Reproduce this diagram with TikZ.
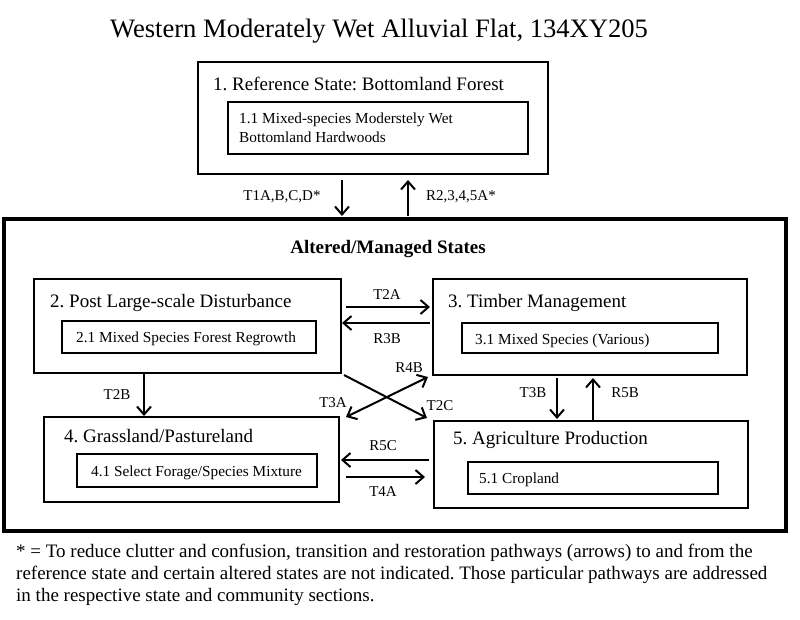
\documentclass[tikz,border=0pt]{standalone}
\usepackage{fontspec}
\setmainfont{Liberation Serif}
\usetikzlibrary{arrows.meta,calc}
\frenchspacing
\tikzset{
 sbox/.style={draw, line width=2.2pt, inner sep=0pt, outer sep=0pt, anchor=north west},
 ibox/.style={draw, line width=1.6pt, inner sep=0pt, outer sep=0pt, anchor=north west},
 bigbox/.style={draw, line width=4pt, inner sep=0pt, outer sep=0pt, anchor=north west},
 stitle/.style={inner sep=0pt, anchor=base west, font=\fontsize{19}{22}\selectfont},
 itext/.style={inner sep=0pt, anchor=base west, font=\fontsize{15.3}{18}\selectfont},
 lbl/.style={inner sep=0pt, font=\fontsize{15}{18}\selectfont},
 foot/.style={inner sep=0pt, anchor=base west, font=\fontsize{19}{22}\selectfont},
 arr/.style={line width=2pt, -{Straight Barb[length=8pt,width=14pt]}},
 darr/.style={line width=2pt, {Straight Barb[length=8pt,width=14pt]}-{Straight Barb[length=8pt,width=14pt]}},
}
\begin{document}
\frenchspacing
\begin{tikzpicture}[x=1pt,y=-1pt]
\useasboundingbox (0,0) rectangle (800,619);
% title
\node[inner sep=0pt, anchor=base, font=\fontsize{26.6}{30}\selectfont] (title) at (379,37) {Western Moderately Wet Alluvial Flat, 134XY205};
% state 1
\node[sbox, minimum width=350pt, minimum height=112pt] (s1) at (198,62) {};
\node[stitle] (s1t) at (213,90) {1. Reference State: Bottomland Forest};
\node[ibox, minimum width=300pt, minimum height=52pt] (s11) at (228,102) {};
\node[itext] (s11a) at (239,123) {1.1 Mixed-species Moderstely Wet};
\node[itext] (s11b) at (239,142) {Bottomland Hardwoods};
% big box
\node[bigbox, minimum width=782pt, minimum height=312pt] (big) at (4,219) {};
\node[inner sep=0pt, anchor=base, font=\bfseries\fontsize{19}{22}\selectfont] (bigt) at (388,253) {Altered/Managed States};
% state 2
\node[sbox, minimum width=307pt, minimum height=94pt] (s2) at (34,279) {};
\node[stitle] (s2t) at (50,307) {2. Post Large-scale Disturbance};
\node[ibox, minimum width=254pt, minimum height=32pt] (s21) at (62,321) {};
\node[itext] (s21a) at (76,342) {2.1 Mixed Species Forest Regrowth};
% state 3
\node[sbox, minimum width=314pt, minimum height=96pt] (s3) at (433,279) {};
\node[stitle] (s3t) at (448,307) {3. Timber Management};
\node[ibox, minimum width=256pt, minimum height=30pt] (s31) at (462,323) {};
\node[itext] (s31a) at (475,344) {3.1 Mixed Species (Various)};
% state 4
\node[sbox, minimum width=295pt, minimum height=85pt] (s4) at (44,417) {};
\node[stitle] (s4t) at (64,442) {4. Grassland/Pastureland};
\node[ibox, minimum width=240pt, minimum height=33pt] (s41) at (77,454) {};
\node[itext] (s41a) at (91,476) {4.1 Select Forage/Species Mixture};
% state 5
\node[sbox, minimum width=314pt, minimum height=87pt] (s5) at (434,421) {};
\node[stitle] (s5t) at (453,444) {5. Agriculture Production};
\node[ibox, minimum width=250pt, minimum height=32pt] (s51) at (468,462) {};
\node[itext] (s51a) at (479,483) {5.1 Cropland};
% arrows
\draw[arr] ($(s1.south west)+(144,6)$) -- ($(big.north west)+(338,-3)$);
\draw[arr] ($(big.north west)+(404,-3)$) -- ($(s1.south west)+(210,6)$);
\draw[arr] ($(s2.north east)+(5,28)$) -- ($(s3.north west)+(-3,28)$);
\draw[arr] ($(s3.north west)+(-3,44)$) -- ($(s2.north east)+(1,44)$);
\draw[arr] ($(s2.south west)+(110,1)$) -- ($(s4.north west)+(100,-1)$);
\draw[arr] ($(s3.south west)+(124,3)$) -- ($(s5.north west)+(123,-2)$);
\draw[arr] ($(s5.north west)+(159,-1)$) -- ($(s3.south west)+(160,3)$);
\draw[arr] ($(s2.south east)+(3,2)$) -- ($(s5.north west)+(-7,-3)$);
\draw[darr] ($(s4.north east)+(7,0)$) -- ($(s3.south west)+(-5,2)$);
\draw[arr] ($(s5.north west)+(-5,39)$) -- ($(s4.north east)+(2,43)$);
\draw[arr] ($(s4.north east)+(7,60)$) -- ($(s5.north west)+(-9,56)$);
% labels
\node[lbl] (l1) at (282,197) {T1A,B,C,D*};
\node[lbl] (l2) at (461,197) {R2,3,4,5A*};
\node[lbl] (l3) at (387,295) {T2A};
\node[lbl] (l4) at (387,339) {R3B};
\node[lbl] (l5) at (117,395) {T2B};
\node[lbl] (l6) at (533,393) {T3B};
\node[lbl] (l7) at (625,393) {R5B};
\node[lbl] (l8) at (409,368) {R4B};
\node[lbl] (l9) at (333,403) {T3A};
\node[lbl] (l10) at (440,406) {T2C};
\node[lbl] (l11) at (383,446) {R5C};
\node[lbl] (l12) at (383,492) {T4A};
% footnote
\node[foot] (f1) at (16,557) {* = To reduce clutter and confusion, transition and restoration pathways (arrows) to and from the};
\node[foot] (f2) at (16,579) {reference state and certain altered states are not indicated. Those particular pathways are addressed};
\node[foot] (f3) at (16,601) {in the respective state and community sections.};
\end{tikzpicture}
\end{document}
